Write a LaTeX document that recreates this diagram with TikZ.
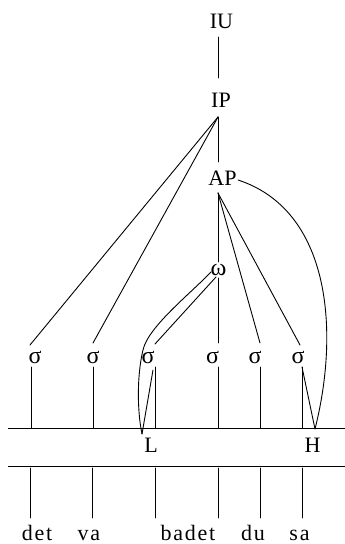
\documentclass[tikz,border=0pt]{standalone}
\usepackage{fontspec}
\setmainfont{Liberation Serif}
\newfontfamily\wordfont[LetterSpace=8]{Liberation Serif}
\begin{document}
\begin{tikzpicture}[x=1pt,y=-1pt, line width=0.9pt,
  lab/.style={inner sep=0pt, anchor=base, font=\fontsize{22}{24}\selectfont},
  grk/.style={inner sep=0pt, anchor=base, font=\fontsize{24}{26}\selectfont},
  word/.style={inner sep=0pt, anchor=base, font=\wordfont\fontsize{22}{24}\selectfont},
  link/.style={line width=0.9pt, line cap=round}]
\useasboundingbox (0,0) rectangle (345,544);
% labels
\node[lab] (IU) at (221.5,28.3) {IU};
\node[lab] (IP) at (221,107) {IP};
\node[lab] (AP) at (222.5,185.5) {AP};
\node[grk] (om) at (218.5,275) {ω};
\node[grk] (s1) at (35,363) {σ};
\node[grk] (s2) at (93,363) {σ};
\node[grk] (s3) at (148,363) {σ};
\node[grk] (s4) at (212.5,363) {σ};
\node[grk] (s5) at (255,363) {σ};
\node[grk] (s6) at (298,363) {σ};
\node[lab] (L) at (151,452) {L};
\node[lab] (H) at (312.5,452) {H};
\node[word] (w1) at (37,540.5) {det};
\node[word] (w2) at (89,540.5) {va};
\node[word] (w3) at (188,540.5) {badet};
\node[word] (w4) at (253,540.5) {du};
\node[word] (w5) at (299.5,540.5) {sa};
% attachment points
\coordinate (iu-b) at (218,37);
\coordinate (ip-t) at (218,78);
\coordinate (ip-b) at (218,117);
\coordinate (ap-t) at (218,162);
\coordinate (ap-b) at (218,193);
\coordinate (ap-r) at (238,180);
\coordinate (om-t) at (218,262);
\coordinate (om-b) at (218,278);
\coordinate (om-l) at (211,272);
\coordinate (om-r) at (216,277);
\coordinate (s1-t) at (30,345);
\coordinate (s2-t) at (93,343);
\coordinate (s3-t) at (155,344);
\coordinate (s4-t) at (218,343);
\coordinate (s5-t) at (260,343);
\coordinate (s6-t) at (300,345);
\coordinate (L-t) at (142,434);
\coordinate (H-t) at (315,429);
\coordinate (s3-b2) at (153,370);
\coordinate (s6-b2) at (302,367);
\coordinate (tl) at (8,428);
\coordinate (tr) at (345,428);
\coordinate (bl) at (8,466);
\coordinate (br) at (345,466);
% tree
\draw[link] (iu-b) -- (ip-t);
\draw[link] (ip-b) -- (ap-t);
\draw[link] (ip-b) -- (s1-t);
\draw[link] (ip-b) -- (s2-t);
\draw[link] (ap-b) -- (om-t);
\draw[link] (ap-b) -- (s5-t);
\draw[link] (ap-b) -- (s6-t);
\draw[link] (om-b) -- (s4-t);
\draw[link] (om-r) -- (s3-t);
\draw[link] (om-l) .. controls (190,294) and (148,327) .. (143,350)
                   .. controls (137,375) and (137,410) .. (L-t);
\draw[link] (ap-r) .. controls (330,210) and (340,330) .. (H-t);
\draw[link] (s3-b2) -- (L-t);
\draw[link] (s6-b2) -- (H-t);
% vertical association lines
\foreach \x in {31,93,155,218,260,302}
  \draw[link] (\x,367) -- (\x,428);
\foreach \x in {30,92,155,218,260,302}
  \draw[link] (\x,468) -- (\x,518);
% tiers
\draw[line width=0.9pt] (tl) -- (tr);
\draw[line width=0.9pt] (bl) -- (br);
\end{tikzpicture}
\end{document}
